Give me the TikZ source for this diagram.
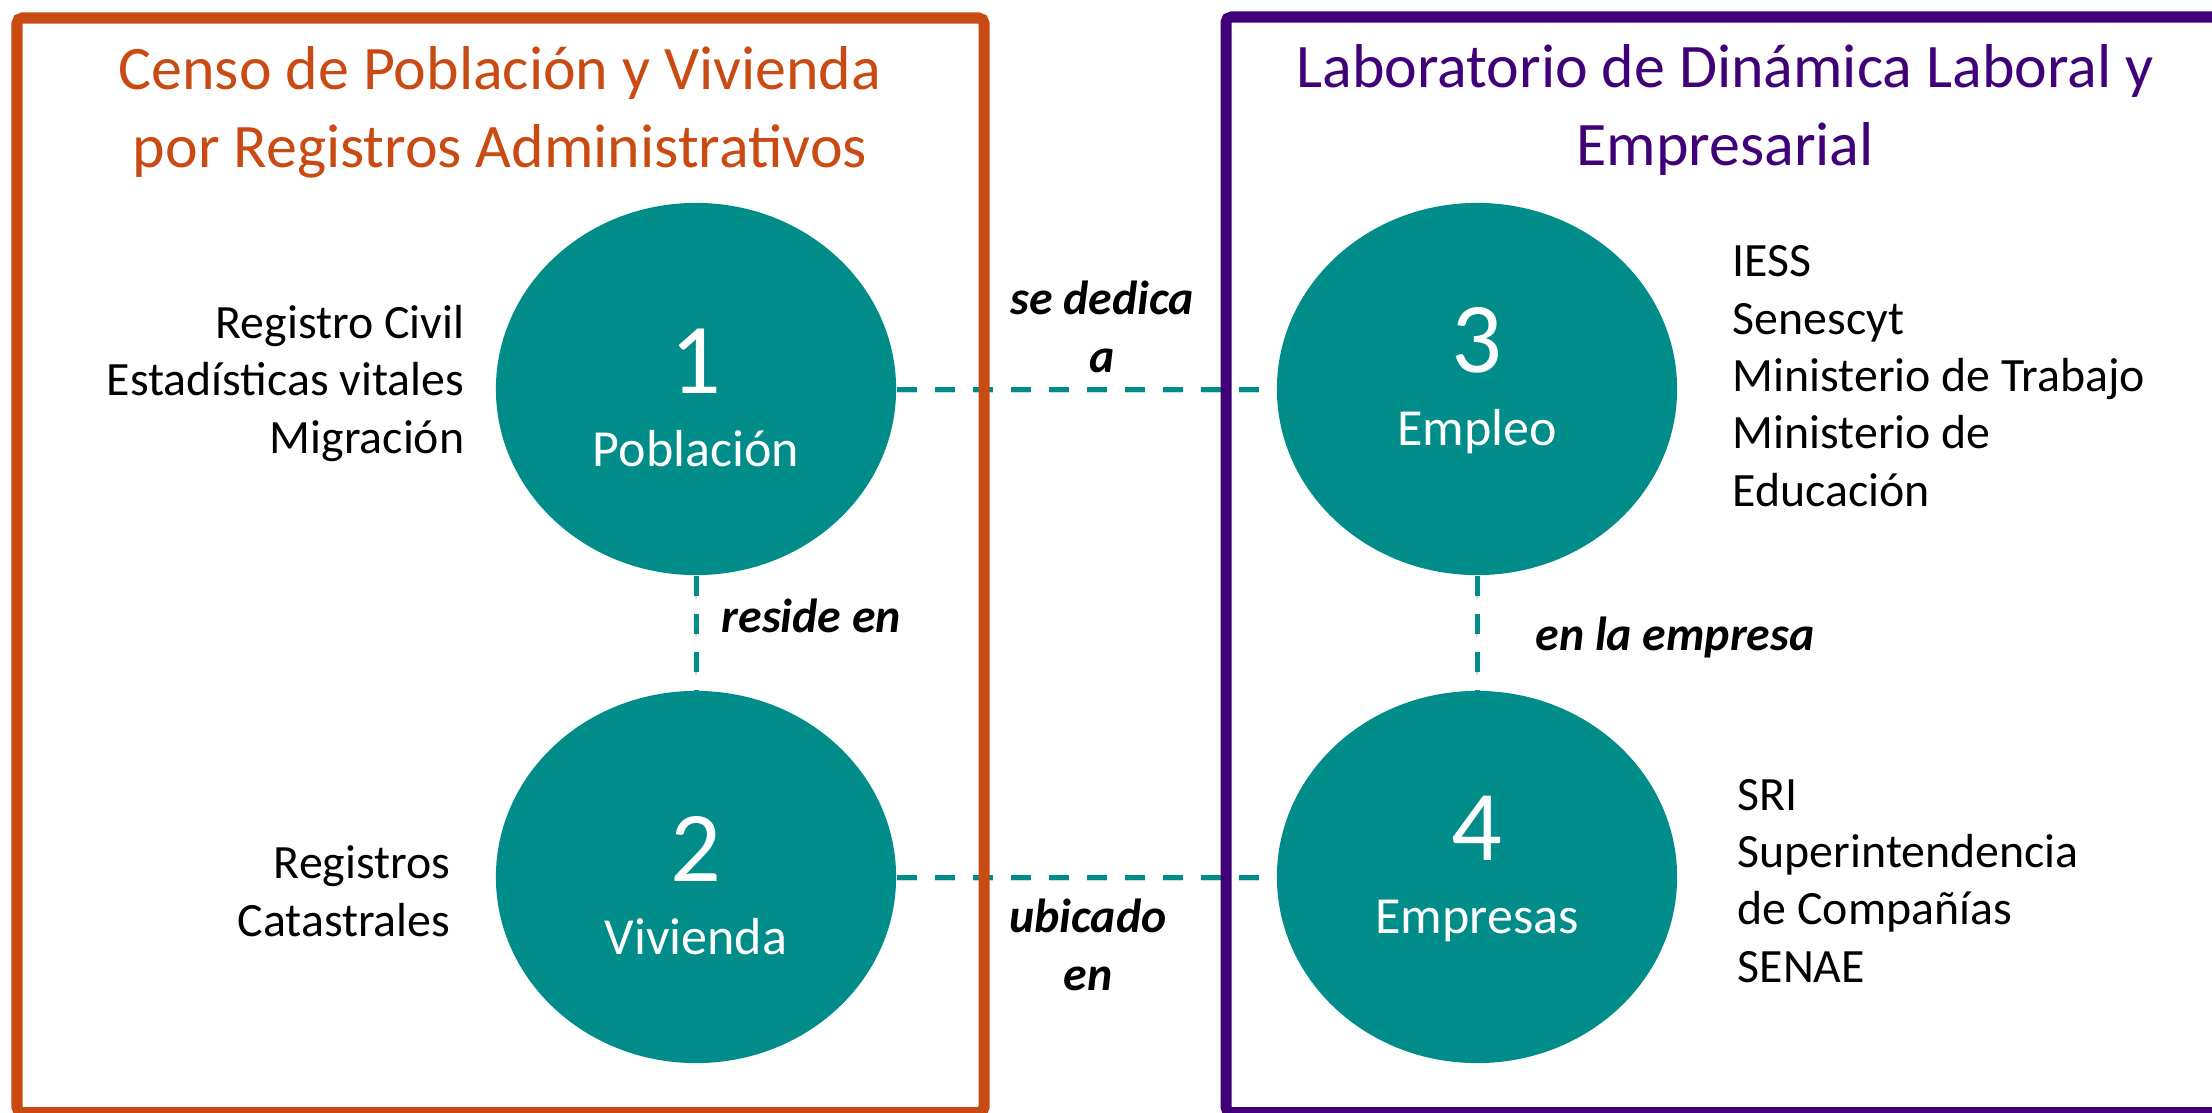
\documentclass[tikz,border=0pt]{standalone}
\usepackage{fontspec}
\setmainfont{Carlito}
\usetikzlibrary{shapes.geometric}

\definecolor{censo}{RGB}{201,74,19}
\definecolor{labor}{RGB}{64,0,120}
\definecolor{circteal}{RGB}{0,140,137}

\tikzstyle{circ}=[ellipse, fill=circteal, inner sep=0pt, minimum width=4cm, minimum height=3.72cm]
\tikzstyle{num}=[text=white, anchor=base, font=\fontsize{28.5}{30}\selectfont]
\tikzstyle{lbl}=[text=white, anchor=base, font=\fontsize{14.8}{16}\selectfont]
\tikzstyle{src}=[align=left, inner sep=0pt, font=\fontsize{13.6}{16.3}\selectfont]
\tikzstyle{rel}=[anchor=base, align=center, inner sep=0pt, font=\fontsize{13.6}{16.3}\selectfont\bfseries\itshape]
\tikzstyle{titulo}=[anchor=base, align=center, font=\fontsize{17.6}{22.1}\selectfont]
\tikzstyle{link}=[draw=circteal, line width=0.05cm, dash pattern=on 0.2cm off 0.18cm,
	preaction={draw=black, opacity=0.15, dash pattern=on 0.2cm off 0.18cm, transform canvas={yshift=-1pt}}]
\tikzstyle{frame}=[line width=0.11cm, rounded corners=1.5pt]

\begin{document}
\begin{tikzpicture}[x=0.01cm, y=-0.01cm]
	\useasboundingbox (0,0) rectangle (2212,1112);
	%circles
	\foreach \c/\x/\y/\dy/\txt in {
		1/696/389/21/Población,
		2/696/877/21/Vivienda,
		3/1477/389/0/Empleo,
		4/1477/877/0/Empresas
	}{
		\node[circ] (c\c) at (\x,\y) {};
		\node[num] (n\c) at (\x,\y-17+\dy) {\c};
		\node[lbl] (l\c) at (\x,\y+56+\dy) {\txt};
	}
	%links
	\draw[link] (c1) -- (c3);
	\draw[link] (c2) -- (c4);
	\draw[link] (c1) -- (c2);
	\draw[link] (c3) -- (c4);
	%link labels (base = last line)
	\node[rel] (dedica) at (1102,372) {se dedica\\a};
	\node[rel, anchor=base west] (reside) at (721,632) {reside en};
	\node[rel] (enempresa) at (1675,650) {en la empresa};
	\node[rel] (ubicado) at (1088,990) {ubicado\\en};
	%frames
	\draw[frame, censo] (17,18) rectangle (984,1112.5);
	\draw[frame, labor] (1226,17) rectangle (2240,1112.5);
	%titles
	\node[titulo, text=censo] (tcenso) at (500,167) {Censo de Población y Vivienda\\por Registros Administrativos};
	\node[titulo, text=labor] (tlabor) at (1725,165) {Laboratorio de Dinámica Laboral y\\Empresarial};
	%sources
	\node[src, align=right, anchor=base east] (s1) at (465,453) {Registro Civil\\Estadísticas vitales\\Migración};
	\node[src, align=right, anchor=base east] (s2) at (451,936) {Registros\\Catastrales};
	\node[src, anchor=base west] (s3) at (1732,506) {IESS\\Senescyt\\Ministerio de Trabajo\\Ministerio de\\Educación};
	\node[src, anchor=base west] (s4) at (1737,982) {SRI\\Superintendencia\\de Compañías\\SENAE};
\end{tikzpicture}
\end{document}
